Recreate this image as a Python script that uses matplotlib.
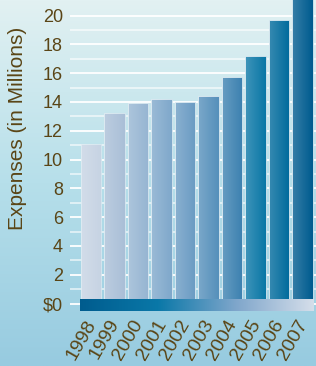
import matplotlib.pyplot as plt
import numpy as np
from matplotlib.colors import LinearSegmentedColormap
from matplotlib.transforms import ScaledTranslation

years = ['1998', '1999', '2000', '2001', '2002', '2003', '2004', '2005', '2006', '2007']
expenses = [11.1, 13.2, 13.9, 14.2, 14.0, 14.4, 15.7, 17.2, 19.7, 21.5]
bar_colors = ['#c6d3e3', '#aabfd7', '#96b5d2', '#7fa8cb', '#6a9bc3', '#5690bb',
              '#3c81b0', '#0a77a6', '#006a9c', '#005b8f']
y_major = [0, 2, 4, 6, 8, 10, 12, 14, 16, 18, 20]
y_labels = ['$0', '2', '4', '6', '8', '10', '12', '14', '16', '18', '20']
y_minor = [1, 3, 5, 7, 9, 11, 13, 15, 17, 19]

txt = '#5a4516'
plt.rcParams['font.family'] = ['Liberation Sans', 'DejaVu Sans']

fig = plt.figure(figsize=(3.16, 3.66), dpi=100)

# fond en degrade
bg = fig.add_axes([0, 0, 1, 1], zorder=-10)
grad = np.linspace(0, 1, 256).reshape(-1, 1)
bg_cmap = LinearSegmentedColormap.from_list('bg', ['#e2f1f2', '#b6dfea', '#97cbe0'])
bg.imshow(grad, aspect='auto', cmap=bg_cmap, extent=[0, 1, 0, 1])
bg.axis('off')

ax = fig.add_axes([0.2215, 0.1503, 0.7785, 0.8497])
ax.patch.set_alpha(0)
x = np.arange(len(years))

# linie siatki
for v in y_major:
    ax.axhline(v, color='white', lw=1.3, zorder=1)
for v in y_minor:
    ax.axhline(v, color='white', lw=1.1, alpha=0.75, zorder=1)

bars = ax.bar(x, expenses, width=0.87, bottom=0, color=bar_colors,
              edgecolor='#d8e8f0', linewidth=0.6, zorder=2)

# lekki gradient poziomy na slupkach
shade = np.linspace(0.22, 0.0, 64).reshape(1, -1)
shade_cmap = LinearSegmentedColormap.from_list('sh', [(1, 1, 1, 0), (1, 1, 1, 1)])
for b in bars:
    im = ax.imshow(shade, aspect='auto', cmap=shade_cmap, vmin=0, vmax=1,
                   extent=[b.get_x(), b.get_x() + b.get_width(), 0, b.get_height()],
                   zorder=3)
    im.set_clip_path(b)

# pasek u dolu
band = np.linspace(0, 1, 256).reshape(1, -1)
band_cmap = LinearSegmentedColormap.from_list('band', ['#005c8e', '#0a78a8', '#7fa6cb', '#d5deea'])
ax.imshow(band, aspect='auto', cmap=band_cmap, extent=[-0.47, 9.45, -0.52, 0.31], zorder=4)
ax.set_xlim(-0.894, 9.574)
ax.set_ylim(-0.52, 21.08)

for s in ax.spines.values():
    s.set_visible(False)

ax.set_yticks(y_major)
ax.set_yticklabels(y_labels, fontsize=13, color=txt)
ax.tick_params(axis='y', length=0, pad=5)

ax.set_xticks(x)
ax.set_xticklabels(years, fontsize=14, color=txt, rotation=60, ha='right', va='top')
ax.tick_params(axis='x', length=0, pad=4)
for lab in ax.get_xticklabels():
    lab.set_transform(lab.get_transform() + ScaledTranslation(6 / 72, 0, fig.dpi_scale_trans))

fig.text(18 / 316, 1 - 128 / 366, 'Expenses (in Millions)', rotation=90,
         ha='center', va='center', fontsize=15, color=txt)

fig.savefig('out.png', dpi=100)
